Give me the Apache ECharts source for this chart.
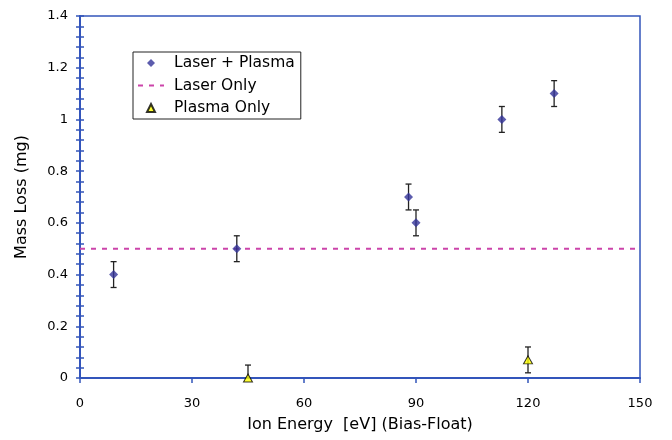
<!DOCTYPE html>
<html>
<head>
<meta charset="utf-8">
<script src="https://cdn.jsdelivr.net/npm/echarts@6/dist/echarts.min.js"></script>
<style>html,body{margin:0;padding:0;background:#fff}#c{width:672px;height:440px}</style>
</head>
<body>
<div id="c"></div>
<script>
// Data
const lpX = [9, 42, 88, 90, 113, 127];
const lpY = [0.4, 0.5, 0.7, 0.6, 1.0, 1.1];
const lpErr = [0.05, 0.05, 0.05, 0.05, 0.05, 0.05];
const poX = [45, 120];
const poY = [0, 0.07];
const poErr = [0.05, 0.05];
const laserOnlyY = 0.5;
const xRange = [0, 150];
const yRange = [0, 1.4];
const seriesNames = ['Laser + Plasma', 'Laser Only', 'Plasma Only'];

const AXIS = '#3355bb';
const FONT = 'DejaVu Sans, Verdana, sans-serif';

function errData(xs, ys, es) {
  return xs.map((x, i) => [x, ys[i] - es[i], ys[i] + es[i]]);
}
function errRender(params, api) {
  const x = api.value(0);
  const lo = api.coord([x, api.value(1)]);
  const hi = api.coord([x, api.value(2)]);
  const w = 3;
  const style = { stroke: '#222', lineWidth: 1.3 };
  return {
    type: 'group',
    children: [
      { type: 'line', shape: { x1: lo[0], y1: lo[1], x2: hi[0], y2: hi[1] }, style },
      { type: 'line', shape: { x1: lo[0] - w, y1: lo[1], x2: lo[0] + w, y2: lo[1] }, style },
      { type: 'line', shape: { x1: hi[0] - w, y1: hi[1], x2: hi[0] + w, y2: hi[1] }, style }
    ]
  };
}

const chart = echarts.init(document.getElementById('c'));
chart.setOption({
  animation: false,
  backgroundColor: '#fff',
  textStyle: { fontFamily: FONT },
  grid: { left: 80, right: 32, top: 16, bottom: 62, show: true, borderColor: AXIS, borderWidth: 1.5, backgroundColor: 'transparent' },
  legend: {
    data: [
      { name: seriesNames[0], icon: 'path://M0,-1L1,0L0,1L-1,0Z' },
      { name: seriesNames[1], itemStyle: { opacity: 0 } },
      { name: seriesNames[2], icon: 'path://M0,-1L1,1L-1,1Z' }
    ],
    orient: 'vertical',
    left: 133, top: 52,
    padding: [3, 6, 3, 4],
    itemGap: 6.5,
    itemWidth: 26, itemHeight: 8,
    symbolKeepAspect: true,
    borderColor: '#222', borderWidth: 1, borderRadius: 0,
    backgroundColor: '#fff',
    textStyle: { fontFamily: FONT, fontSize: 15.5, lineHeight: 16, color: '#000', padding: [0, 0, 0, 5] }
  },
  xAxis: {
    type: 'value', min: xRange[0], max: xRange[1], interval: 30,
    name: 'Ion Energy  [eV] (Bias-Float)', nameLocation: 'middle', nameGap: 39,
    nameTextStyle: { fontFamily: FONT, fontSize: 16, color: '#000' },
    axisLine: { show: true, onZero: false, lineStyle: { color: AXIS, width: 2 } },
    axisTick: { show: true, inside: false, length: 5, lineStyle: { color: AXIS, width: 1.5 } },
    axisLabel: { fontFamily: FONT, fontSize: 13, color: '#000', margin: 19 },
    splitLine: { show: false }
  },
  yAxis: [{
    type: 'value', min: yRange[0], max: yRange[1], interval: 0.2,
    name: 'Mass Loss (mg)', nameLocation: 'middle', nameGap: 50,
    nameTextStyle: { fontFamily: FONT, fontSize: 16, color: '#000' },
    axisLine: { show: true, lineStyle: { color: AXIS, width: 2 } },
    axisTick: { show: true, inside: false, length: 4, lineStyle: { color: AXIS, width: 1.5 } },
    minorTick: { show: true, splitNumber: 5, length: 4, lineStyle: { color: AXIS, width: 1.5 } },
    axisLabel: { fontFamily: FONT, fontSize: 13, color: '#000', margin: 12 },
    splitLine: { show: false }
  }, {
    type: 'value', min: yRange[0], max: yRange[1], interval: 0.2, position: 'left',
    axisLine: { show: false },
    axisTick: { show: true, inside: true, length: 4, lineStyle: { color: AXIS, width: 1.5 } },
    minorTick: { show: true, splitNumber: 5, length: 4, lineStyle: { color: AXIS, width: 1.5 } },
    axisLabel: { show: false },
    splitLine: { show: false }
  }],
  series: [
    {
      name: 'Laser Only', type: 'line', symbol: 'none',
      data: [[xRange[0], laserOnlyY], [xRange[1], laserOnlyY]],
      lineStyle: { color: '#cc44aa', width: 2, type: [5, 6] },
      itemStyle: { color: '#cc44aa' },
      z: 2
    },
    {
      name: 'errLP', type: 'custom', renderItem: errRender, clip: true,
      data: errData(lpX, lpY, lpErr), encode: { x: 0, y: [1, 2] }, z: 3, silent: true
    },
    {
      name: 'errPO', type: 'custom', renderItem: errRender, clip: true,
      data: errData(poX, poY, poErr), encode: { x: 0, y: [1, 2] }, z: 3, silent: true
    },
    {
      name: 'Laser + Plasma', type: 'scatter', symbol: 'diamond', symbolSize: 9,
      data: lpX.map((x, i) => [x, lpY[i]]),
      itemStyle: { color: '#333399' }, z: 5
    },
    {
      name: 'Plasma Only', type: 'scatter', symbol: 'triangle', symbolSize: [9, 8],
      data: poX.map((x, i) => [x, poY[i]]),
      itemStyle: { color: '#ffff00', borderColor: '#000', borderWidth: 1 }, z: 5
    }
  ]
});
</script>
</body>
</html>
